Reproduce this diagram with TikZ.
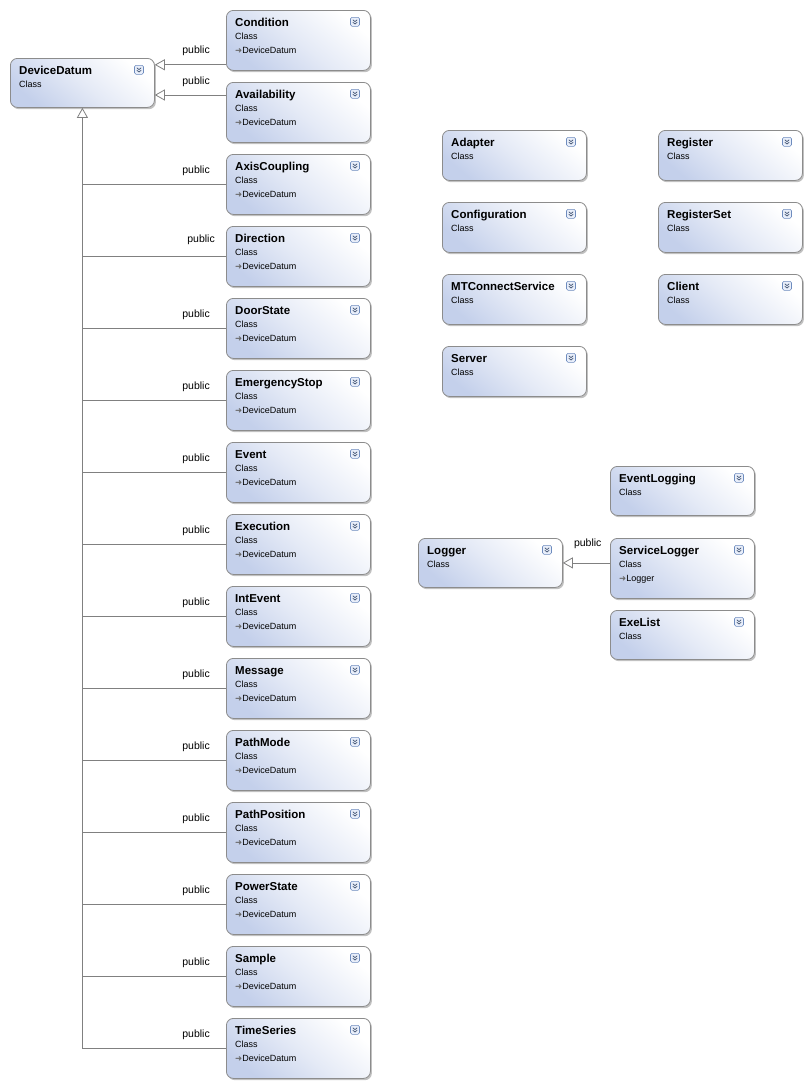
\documentclass[tikz,border=0pt]{standalone}
\usepackage{fontspec}
\setmainfont{Liberation Sans}
\newfontfamily\symfont{DejaVu Sans}
\usetikzlibrary{shadows,arrows.meta,calc}
\definecolor{boxL}{RGB}{196,208,235}
\definecolor{iconB}{RGB}{110,140,190}
\definecolor{iconF}{RGB}{232,238,250}
\definecolor{lineG}{RGB}{128,128,128}
\tikzset{
 cbox/.style={rectangle, rounded corners=7pt, draw=black!45, line width=0.8pt, minimum width=144pt, bottom color=boxL, top color=white, middle color=boxL!45!white, shading angle=-40, drop shadow={shadow xshift=1.5pt,shadow yshift=-1.8pt,fill=black!40,opacity=0.6}, inner sep=0pt},
 ctitle/.style={font=\bfseries\fontsize{11.5}{12}\selectfont, inner sep=0pt},
 csub/.style={font=\fontsize{9}{10}\selectfont, inner sep=0pt},
 plabel/.style={font=\fontsize{10.5}{11}\selectfont, inner sep=0pt},
 inhline/.style={draw=lineG, line width=0.8pt},
 inharrow/.style={inhline, -{Triangle[open, length=10pt, width=11pt, fill=white]}},
 iconbox/.style={rectangle, rounded corners=1.5pt, draw=iconB, fill=iconF, minimum size=9pt, inner sep=0pt, line width=0.6pt},
 chev/.style={draw=iconB!60!black, line width=0.7pt},
}
\newcommand\classbox[6]{%
 \node[cbox, minimum height=#4pt, anchor=north west] (#1) at (#2,-#3) {};
 \node[ctitle, anchor=base west] (#1-t) at ($(#1.north west)+(9,-16)$) {#5};
 \node[csub, anchor=base west] (#1-s) at ($(#1.north west)+(9,-29)$) {Class};
 \node[iconbox, anchor=north east] (#1-i) at ($(#1.north east)+(-11,-7)$) {};
 \draw[chev] ($(#1-i.center)+(-2.2,2)$) -- ($(#1-i.center)+(0,0.2)$) -- ($(#1-i.center)+(2.2,2)$);
 \draw[chev] ($(#1-i.center)+(-2.2,-0.4)$) -- ($(#1-i.center)+(0,-2.2)$) -- ($(#1-i.center)+(2.2,-0.4)$);
 \ifx&#6&\else
 \node[csub, anchor=base west] (#1-b) at ($(#1.north west)+(9,-43)$) {{\color{black!60}\symfont\fontsize{8.5}{9}\selectfont ➜}#6};
 \fi
}
\begin{document}
\begin{tikzpicture}[x=1pt,y=1pt]
\useasboundingbox[fill=white] (0,0) rectangle (811,-1087);
\classbox{DeviceDatum}{10}{58}{49}{DeviceDatum}{}
\classbox{Condition}{226}{10}{60}{Condition}{DeviceDatum}
\classbox{Availability}{226}{82}{60}{Availability}{DeviceDatum}
\classbox{AxisCoupling}{226}{154}{60}{AxisCoupling}{DeviceDatum}
\classbox{Direction}{226}{226}{60}{Direction}{DeviceDatum}
\classbox{DoorState}{226}{298}{60}{DoorState}{DeviceDatum}
\classbox{EmergencyStop}{226}{370}{60}{EmergencyStop}{DeviceDatum}
\classbox{Event}{226}{442}{60}{Event}{DeviceDatum}
\classbox{Execution}{226}{514}{60}{Execution}{DeviceDatum}
\classbox{IntEvent}{226}{586}{60}{IntEvent}{DeviceDatum}
\classbox{Message}{226}{658}{60}{Message}{DeviceDatum}
\classbox{PathMode}{226}{730}{60}{PathMode}{DeviceDatum}
\classbox{PathPosition}{226}{802}{60}{PathPosition}{DeviceDatum}
\classbox{PowerState}{226}{874}{60}{PowerState}{DeviceDatum}
\classbox{Sample}{226}{946}{60}{Sample}{DeviceDatum}
\classbox{TimeSeries}{226}{1018}{60}{TimeSeries}{DeviceDatum}
\classbox{Adapter}{442}{130}{50}{Adapter}{}
\classbox{Register}{658}{130}{50}{Register}{}
\classbox{Configuration}{442}{202}{50}{Configuration}{}
\classbox{RegisterSet}{658}{202}{50}{RegisterSet}{}
\classbox{MTConnectService}{442}{274}{50}{MTConnectService}{}
\classbox{Client}{658}{274}{50}{Client}{}
\classbox{Server}{442}{346}{50}{Server}{}
\classbox{EventLogging}{610}{466}{49}{EventLogging}{}
\classbox{Logger}{418}{538}{49}{Logger}{}
\classbox{ServiceLogger}{610}{538}{60}{ServiceLogger}{Logger}
\classbox{ExeList}{610}{610}{49}{ExeList}{}
% Condition and Availability
\coordinate (condp) at ($(Condition.south west)+(0,6)$);
\draw[inharrow] (condp) -- (DeviceDatum.east |- condp);
\node[plabel, anchor=base east] (lab-Condition) at ($(condp)+(-16,11)$) {public};
\coordinate (availp) at ($(Availability.north west)+(0,-13)$);
\draw[inharrow] (availp) -- (DeviceDatum.east |- availp);
\node[plabel, anchor=base east] (lab-Availability) at ($(availp)+(-16,11)$) {public};
% trunk
\draw[inharrow] (DeviceDatum.south |- TimeSeries.west) -- (DeviceDatum.south);
\foreach \n in {AxisCoupling,Direction,DoorState,EmergencyStop,Event,Execution,IntEvent,Message,PathMode,PathPosition,PowerState,Sample,TimeSeries}{
 \draw[inhline] (DeviceDatum.south |- \n.west) -- (\n.west);
}
\foreach \n in {AxisCoupling,DoorState,EmergencyStop,Event,Execution,IntEvent,Message,PathMode,PathPosition,PowerState,Sample,TimeSeries}{
 \node[plabel, anchor=base east] (lab-\n) at ($(\n.west)+(-16,11)$) {public};
}
\node[plabel, anchor=base east] (lab-Direction) at ($(Direction.west)+(-11,14)$) {public};
% Logger
\draw[inharrow] (ServiceLogger.west |- Logger.east) -- (Logger.east);
\node[plabel, anchor=base west] (lab-ServiceLogger) at ($(Logger.east)+(11,16)$) {public};
\end{tikzpicture}
\end{document}
